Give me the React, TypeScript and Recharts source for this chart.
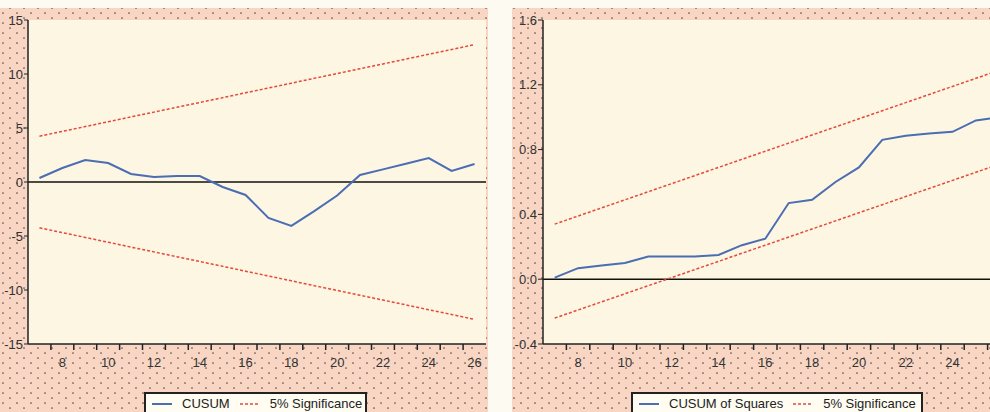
import React from 'react';
import { LineChart, Line, XAxis, YAxis, CartesianGrid, ReferenceLine, Legend } from 'recharts';

// ---------- data ----------
const observations = [7, 8, 9, 10, 11, 12, 13, 14, 15, 16, 17, 18, 19, 20, 21, 22, 23, 24, 25, 26];

const cusum = [0.37, 1.3, 2.04, 1.76, 0.74, 0.46, 0.55, 0.55, -0.46, -1.2, -3.33, -4.07, -2.7, -1.25, 0.65, 1.17, 1.69, 2.22, 1.02, 1.67];
const cusumUpper = [4.24, 4.69, 5.13, 5.58, 6.03, 6.47, 6.92, 7.36, 7.81, 8.26, 8.7, 9.15, 9.6, 10.04, 10.49, 10.93, 11.38, 11.83, 12.27, 12.72];
const cusumLower = [-4.24, -4.69, -5.13, -5.58, -6.03, -6.47, -6.92, -7.36, -7.81, -8.26, -8.7, -9.15, -9.6, -10.04, -10.49, -10.93, -11.38, -11.83, -12.27, -12.72];

const cusumSq = [0.01, 0.068, 0.085, 0.1, 0.14, 0.14, 0.14, 0.15, 0.21, 0.25, 0.47, 0.49, 0.6, 0.69, 0.86, 0.886, 0.9, 0.91, 0.98, 1.0];
const sqUpper = [0.34, 0.39, 0.44, 0.49, 0.54, 0.59, 0.64, 0.69, 0.74, 0.79, 0.84, 0.89, 0.94, 0.99, 1.04, 1.09, 1.14, 1.19, 1.24, 1.29];
const sqLower = [-0.24, -0.19, -0.14, -0.09, -0.04, 0.01, 0.06, 0.11, 0.16, 0.21, 0.26, 0.31, 0.36, 0.41, 0.46, 0.51, 0.56, 0.61, 0.66, 0.71];

const xLabelTicksLeft = [8, 10, 12, 14, 16, 18, 20, 22, 24, 26];
const xLabelTicksRight = [8, 10, 12, 14, 16, 18, 20, 22, 24];
const xMinorTicks = [7.5, 8.5, 9.5, 10.5, 11.5, 12.5, 13.5, 14.5, 15.5, 16.5, 17.5, 18.5, 19.5, 20.5, 21.5, 22.5, 23.5, 24.5, 25.5];
const cusumYTicks = [-15, -10, -5, 0, 5, 10, 15];
const sqYTicks = [-0.4, 0, 0.4, 0.8, 1.2, 1.6];
const frameTicks = [0, 1, 2, 3, 4, 5, 6, 7, 8, 9, 10, 11, 12, 13, 14, 15, 16, 17, 18, 19, 20, 21, 22, 23, 24, 25];

const cusumData = observations.map((t, i) => ({ t, cusum: cusum[i], upper: cusumUpper[i], lower: cusumLower[i] }));
const sqData = observations.map((t, i) => ({ t, sq: cusumSq[i], upper: sqUpper[i], lower: sqLower[i] }));

// ---------- styles ----------
const FONT = '"Liberation Sans", Arial, sans-serif';
const TEXT = '#333';
const AXIS = '#222';
const BLUE = '#4a6db3';
const RED = '#e8473b';
const PLOT_BG = '#fdf6e2';
const PINK = '#f8d6c3';
const xTicksLeft = [...xMinorTicks, ...xLabelTicksLeft].sort((a, b) => a - b);
const xTicksRight = [...xMinorTicks, ...xLabelTicksRight].sort((a, b) => a - b);

const XTick = (props: any) => {
  const { x, y, payload } = props;
  const v = payload.value;
  if (Math.abs(v - Math.round(v)) > 0.01) {
    return <line x1={x} x2={x} y1={y} y2={y + 6} stroke={AXIS} strokeWidth={1.5} />;
  }
  return (
    <text x={x} y={y + 23} textAnchor="middle" fontSize={13} fill={TEXT} fontFamily={FONT}>
      {v}
    </text>
  );
};

const FrameTick = (props: any) => {
  const { x, y } = props;
  return <line x1={x - 3} x2={x + 3} y1={y} y2={y} stroke={AXIS} strokeWidth={1.2} />;
};

const makeLegend = (width: number) => (props: any) => {
  const items = (props.payload || []).filter((p: any) => p.type !== 'none');
  return (
    <div
      style={{
        width,
        height: 30,
        boxSizing: 'border-box',
        border: '2px solid #222',
        background: '#fffcf2',
        display: 'flex',
        alignItems: 'flex-start',
        padding: '2px 0 0 6px',
        fontFamily: FONT,
        fontSize: 13,
        color: '#222',
        whiteSpace: 'nowrap',
      }}
    >
      {items.map((entry: any, i: number) => {
        const dashed = i > 0;
        return (
          <div key={i} style={{ display: 'flex', alignItems: 'center', marginRight: 10 }}>
            <svg width={20} height={12} style={{ marginRight: 10 }}>
              <line
                x1={0}
                x2={20}
                y1={6}
                y2={6}
                stroke={dashed ? RED : BLUE}
                strokeWidth={dashed ? 1.5 : 2}
                strokeDasharray={dashed ? '3 2' : undefined}
              />
            </svg>
            <span>{entry.value}</span>
          </div>
        );
      })}
    </div>
  );
};

const Background = () => (
  <svg width={990} height={412} style={{ position: 'absolute', left: 0, top: 0 }}>
    <defs>
      <pattern id="dots" width={14} height={10} patternUnits="userSpaceOnUse">
        <rect width={14} height={10} fill={PINK} />
        <circle cx={3} cy={3} r={0.85} fill="#5e4f47" />
        <circle cx={10} cy={8} r={0.85} fill="#5e4f47" />
      </pattern>
    </defs>
    <rect x={0} y={0} width={990} height={412} fill="#fdfaf2" />
    <rect x={0} y={8} width={488} height={404} fill="url(#dots)" />
    <rect x={512} y={8} width={478} height={404} fill="url(#dots)" />
  </svg>
);

export default function App() {
  return (
    <div style={{ position: 'absolute', left: 0, top: 0, width: 990, height: 412, overflow: 'hidden', background: '#fff' }}>
      <Background />
      {/* Left panel: CUSUM */}
      <div style={{ position: 'absolute', left: 0, top: 0 }}>
        <LineChart width={490} height={412} data={cusumData} margin={{ top: 20, right: 4, left: 0, bottom: 38 }}>
          <CartesianGrid fill={PLOT_BG} horizontal={false} vertical={false} stroke="none" />
          <XAxis
            dataKey="t"
            type="number"
            domain={[6.5, 26.5]}
            ticks={xTicksLeft}
            interval={0}
            height={30}
            tickSize={0}
            tickMargin={0}
            tickLine={false}
            tick={<XTick />}
            axisLine={{ stroke: AXIS, strokeWidth: 1.5 }}
          />
          <XAxis xAxisId="top" orientation="top" type="number" domain={[6.5, 26.5]} height={0} tick={false} tickLine={false} axisLine={{ stroke: AXIS, strokeWidth: 1.5 }} />
          <YAxis
            type="number"
            domain={[-15, 15]}
            ticks={cusumYTicks}
            interval={0}
            width={28}
            tickSize={4}
            tickMargin={1}
            tick={{ fontSize: 13, fill: TEXT, fontFamily: FONT }}
            tickLine={{ stroke: AXIS }}
            axisLine={{ stroke: AXIS, strokeWidth: 1.5 }}
          />
          <YAxis
            yAxisId="frame"
            orientation="right"
            type="number"
            domain={[-0.67, 25.6]}
            ticks={frameTicks}
            interval={0}
            width={0}
            tickSize={0}
            tickMargin={0}
            tickLine={false}
            tick={<FrameTick />}
            axisLine={{ stroke: AXIS, strokeWidth: 1.5 }}
          />
          <ReferenceLine y={0} stroke="#111" strokeWidth={1.5} />
          <Line dataKey="upper" name="5% Significance" stroke={RED} strokeWidth={1.5} strokeDasharray="3 2" dot={false} isAnimationActive={false} legendType="line" />
          <Line dataKey="lower" name="5% Significance" stroke={RED} strokeWidth={1.5} strokeDasharray="3 2" dot={false} isAnimationActive={false} legendType="none" />
          <Line dataKey="cusum" name="CUSUM" stroke={BLUE} strokeWidth={2} dot={false} isAnimationActive={false} legendType="line" />
          <Legend
            layout="horizontal"
            verticalAlign="middle"
            align="center"
            itemSorter={(item: any) => (item.value === 'CUSUM' ? 0 : 1)}
            content={makeLegend(223)}
            wrapperStyle={{ left: 144, top: 392, right: 'auto', bottom: 'auto', width: 223 }}
          />
        </LineChart>
      </div>
      {/* Right panel: CUSUM of Squares */}
      <div style={{ position: 'absolute', left: 512, top: 0 }}>
        <LineChart width={505} height={412} data={sqData} margin={{ top: 20, right: 6, left: 0, bottom: 38 }}>
          <CartesianGrid fill={PLOT_BG} horizontal={false} vertical={false} stroke="none" />
          <XAxis
            dataKey="t"
            type="number"
            domain={[6.5, 26.5]}
            ticks={xTicksRight}
            interval={0}
            height={30}
            tickSize={0}
            tickMargin={0}
            tickLine={false}
            tick={<XTick />}
            axisLine={{ stroke: AXIS, strokeWidth: 1.5 }}
          />
          <XAxis xAxisId="top" orientation="top" type="number" domain={[6.5, 26.5]} height={0} tick={false} tickLine={false} axisLine={{ stroke: '#4a4035', strokeWidth: 2.5 }} />
          <YAxis
            type="number"
            domain={[-0.4, 1.6]}
            ticks={sqYTicks}
            interval={0}
            width={31}
            tickSize={5}
            tickMargin={1}
            tickFormatter={(v: number) => v.toFixed(1)}
            tick={{ fontSize: 13, fill: TEXT, fontFamily: FONT }}
            tickLine={{ stroke: AXIS }}
            axisLine={{ stroke: AXIS, strokeWidth: 1.5 }}
          />
          <ReferenceLine y={0} stroke="#111" strokeWidth={1.5} />
          <Line dataKey="upper" name="5% Significance" stroke={RED} strokeWidth={1.5} strokeDasharray="3 2" dot={false} isAnimationActive={false} legendType="line" />
          <Line dataKey="lower" name="5% Significance" stroke={RED} strokeWidth={1.5} strokeDasharray="3 2" dot={false} isAnimationActive={false} legendType="none" />
          <Line dataKey="sq" name="CUSUM of Squares" stroke={BLUE} strokeWidth={2} dot={false} isAnimationActive={false} legendType="line" />
          <Legend
            layout="horizontal"
            verticalAlign="middle"
            align="center"
            itemSorter={(item: any) => (item.value === 'CUSUM of Squares' ? 0 : 1)}
            content={makeLegend(292)}
            wrapperStyle={{ left: 119, top: 392, right: 'auto', bottom: 'auto', width: 292 }}
          />
        </LineChart>
      </div>
    </div>
  );
}
